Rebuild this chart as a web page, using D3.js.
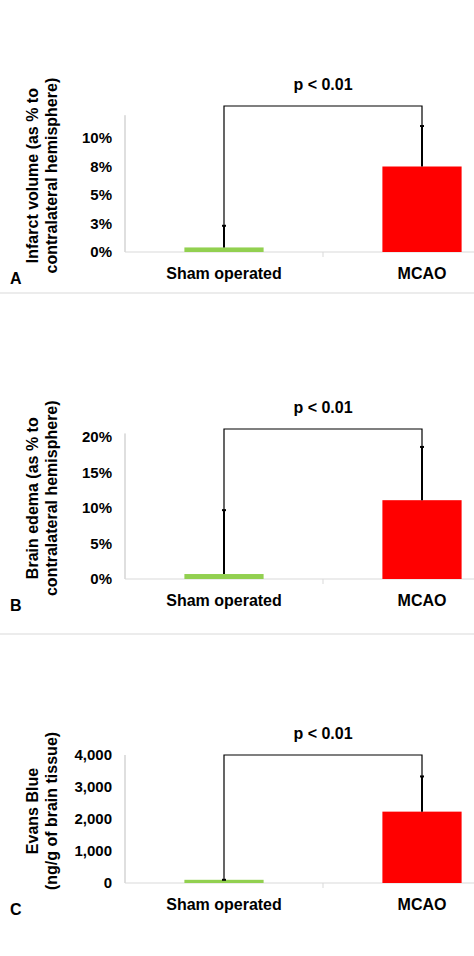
<!DOCTYPE html>
<html><head><meta charset="utf-8">
<script src="https://cdn.jsdelivr.net/npm/d3@7"></script>
<style>body{margin:0;background:#fff}text{font-family:"Liberation Sans",Arial,sans-serif;font-weight:bold}</style>
</head><body>
<script>
var categories = ["Sham operated", "MCAO"];
var colors = ["#92d050", "#ff0000"];
var panelLetters = ["A", "B", "C"];
var yLabels = [["Infarct volume (as % to", "contralateral hemisphere)"],
               ["Brain edema (as % to", "contralateral hemisphere)"],
               ["Evans Blue", "(ng/g of brain tissue)"]];
var means = [[0.4, 7.5], [0.7, 11.1], [100, 2230]];
var errTops = [[2.3, 11.05], [9.7, 18.6], [100, 3330]];
var yMax = [12, 20.5, 4000];
var tickVals = [[0, 2.5, 5, 7.5, 10], [0, 5, 10, 15, 20], [0, 1000, 2000, 3000, 4000]];
var tickLabels = [["0%", "3%", "5%", "8%", "10%"], ["0%", "5%", "10%", "15%", "20%"], ["0", "1,000", "2,000", "3,000", "4,000"]];
var pText = "p < 0.01";

var W = 474, H = 956;
var svg = d3.select("body").append("svg").attr("width", W).attr("height", H);

// panel geometry: y of zero line, y of top tick, y of bracket
var base = [252, 579, 883];
var topTickY = [138, 437, 755];
var bracketY = [106, 429, 755];
var seps = [293, 634];

seps.forEach(function (s) {
    svg.append("line").attr("x1", 0).attr("x2", W).attr("y1", s).attr("y2", s)
        .attr("stroke", "#d9d9d9").attr("stroke-width", 1);
});

for (var p = 0; p < 3; p++) {
    var topV = tickVals[p][4];
    var y = d3.scaleLinear().domain([0, topV]).range([base[p], topTickY[p]]);
    var x = d3.scaleBand().domain(categories).range([125, 521]).paddingInner(0.6).paddingOuter(0.3);
    var g = svg.append("g");

    // axes
    g.append("line").attr("x1", 125).attr("x2", 125).attr("y1", y(0)).attr("y2", y(yMax[p]))
        .attr("stroke", "#bfbfbf");
    g.append("line").attr("x1", 125).attr("x2", W).attr("y1", y(0)).attr("y2", y(0))
        .attr("stroke", "#d9d9d9");
    g.append("line").attr("x1", 323).attr("x2", 323).attr("y1", y(0)).attr("y2", y(0) + 5)
        .attr("stroke", "#d9d9d9");

    tickVals[p].forEach(function (t, i) {
        g.append("text").attr("x", 112).attr("y", y(t) + 5).attr("text-anchor", "end")
            .attr("font-size", 15).text(tickLabels[p][i]);
    });

    // bars
    g.selectAll("rect").data(means[p]).enter().append("rect")
        .attr("x", function (d, i) { return x(categories[i]); })
        .attr("width", x.bandwidth())
        .attr("y", function (d) { return y(d); })
        .attr("height", function (d) { return y(0) - y(d); })
        .attr("fill", function (d, i) { return colors[i]; });

    // error bars
    var cx = categories.map(function (c) { return x(c) + x.bandwidth() / 2; });
    errTops[p].forEach(function (e, i) {
        g.append("line").attr("x1", cx[i]).attr("x2", cx[i]).attr("y1", y(means[p][i])).attr("y2", y(e))
            .attr("stroke", "#000").attr("stroke-width", 2);
        g.append("line").attr("x1", cx[i] - 2).attr("x2", cx[i] + 2).attr("y1", y(e)).attr("y2", y(e))
            .attr("stroke", "#000").attr("stroke-width", 2);
    });

    // bracket
    g.append("path")
        .attr("d", "M" + cx[0] + "," + y(errTops[p][0]) + "V" + bracketY[p] + "H" + cx[1] + "V" + y(errTops[p][1]))
        .attr("fill", "none").attr("stroke", "#000").attr("stroke-width", 1.2);
    g.append("text").attr("x", (cx[0] + cx[1]) / 2).attr("y", bracketY[p] - 16)
        .attr("text-anchor", "middle").attr("font-size", 16).text(pText);

    // categories
    categories.forEach(function (c, i) {
        g.append("text").attr("x", cx[i]).attr("y", y(0) + 27).attr("text-anchor", "middle")
            .attr("font-size", 16).text(c);
    });
    g.append("text").attr("x", 10).attr("y", y(0) + 32).attr("font-size", 16).text(panelLetters[p]);

    // y label
    var midY = (y(0) + y(yMax[p])) / 2 - 8;
    yLabels[p].forEach(function (l, i) {
        g.append("text").attr("transform", "translate(" + (38 + i * 19) + "," + midY + ") rotate(-90)")
            .attr("text-anchor", "middle").attr("font-size", 16).text(l);
    });
}
</script>
</body></html>
